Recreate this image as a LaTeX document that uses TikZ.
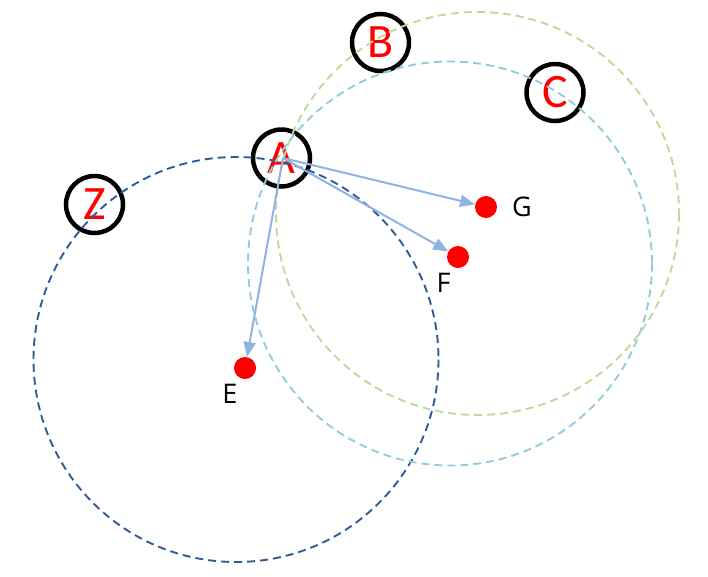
\documentclass[tikz,border=0pt]{standalone}
\usepackage{fontspec}
\setmainfont{Carlito}
\newfontfamily\labfont{Open Sans}
\usetikzlibrary{arrows.meta}
\definecolor{dkblue}{HTML}{2F5C97}
\definecolor{olivec}{HTML}{C4D79B}
\definecolor{ltblue}{HTML}{92CDDC}
\definecolor{arrowc}{HTML}{8DB4E2}
\tikzset{
  bignode/.style={circle,draw=black,line width=4.5pt,minimum size=57pt,inner sep=0pt,
    text=red,font=\fontsize{48}{48}\selectfont},
  reddot/.style={circle,fill=red,minimum size=22pt,inner sep=0pt},
  lab/.style={font=\labfont\fontsize{27}{27}\selectfont,text=black,inner sep=0pt},
  dcircle/.style={line width=1.9pt,dash pattern=on 8pt off 5pt},
  arr/.style={draw=arrowc,line width=2pt,-{Triangle[length=15pt,width=12pt]}}
}
\begin{document}
\begin{tikzpicture}[x=1pt,y=-1pt]
\useasboundingbox (0,0) rectangle (708,576);
% nodes
\node[bignode] (A) at (281.5,158) {A};
\node[bignode] (B) at (380.5,42.5) {B};
\node[bignode] (C) at (555,92.5) {C};
\node[bignode] (Z) at (94.5,204.5) {Z};
% dashed circles
\draw[dcircle,draw=dkblue] (236,359.5) circle[radius=202.5];
\draw[dcircle,draw=olivec] (477.5,213.5) circle[radius=201.5];
\draw[dcircle,draw=ltblue] (450,263.5) circle[radius=202];
% dots
\node[reddot] (G) at (486,207) {};
\node[reddot] (F) at (458,257) {};
\node[reddot] (E) at (245,368) {};
\node[lab] (Gl) at (522,207) {G};
\node[lab] (Fl) at (443.5,283) {F};
\node[lab] (El) at (230,394) {E};
% arrows
\coordinate (a0) at (283,158);
\draw[arr] (a0) -- (G);
\draw[arr] (a0) -- (F);
\draw[arr] (a0) -- (E);
\end{tikzpicture}
\end{document}
